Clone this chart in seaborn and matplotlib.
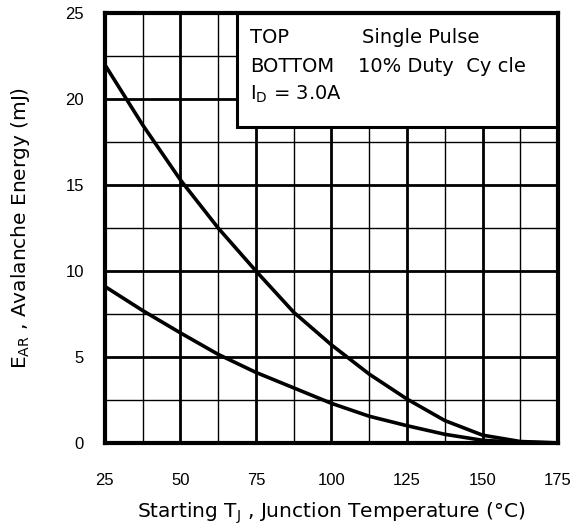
import matplotlib
matplotlib.use("Agg")
import matplotlib.pyplot as plt
import seaborn as sns
import pandas as pd
from matplotlib.patches import Rectangle
from matplotlib.ticker import MultipleLocator

temps = [25, 37.5, 50, 62.5, 75, 87.5, 100, 112.5, 125, 137.5, 150, 162.5, 175]
single_pulse = [22.0, 18.5, 15.3, 12.5, 10.0, 7.6, 5.7, 4.0, 2.55, 1.3, 0.45, 0.08, 0.0]
duty_10 = [9.1, 7.7, 6.4, 5.15, 4.1, 3.2, 2.3, 1.55, 1.0, 0.5, 0.15, 0.03, 0.0]
xticks = [25, 50, 75, 100, 125, 150, 175]
yticks = [0, 5, 10, 15, 20, 25]

sns.set_style("white")
plt.rcParams['font.family'] = ['Liberation Sans', 'DejaVu Sans']
plt.rcParams['mathtext.fontset'] = 'custom'
plt.rcParams['mathtext.rm'] = 'DejaVu Sans'
plt.rcParams['mathtext.it'] = 'DejaVu Sans'
for k in ['text.color', 'axes.labelcolor', 'xtick.color', 'ytick.color']:
    plt.rcParams[k] = 'black'

LBL = ['DejaVu Sans']

df = pd.concat([
    pd.DataFrame({"T": temps, "E": single_pulse, "s": "Single Pulse"}),
    pd.DataFrame({"T": temps, "E": duty_10, "s": "10% Duty Cycle"}),
])

fig = plt.figure(figsize=(5.73, 5.26), dpi=100)
ax = fig.add_axes([0.183, 0.158, 0.791, 0.817])

sns.lineplot(data=df, x="T", y="E", units="s", estimator=None, color="black",
             linewidth=2.6, ax=ax, legend=False, zorder=3)

ax.set_xlim(25, 175)
ax.set_ylim(0, 25)
ax.set_xticks(xticks)
ax.set_yticks(yticks)
ax.xaxis.set_minor_locator(MultipleLocator(12.5))
ax.yaxis.set_minor_locator(MultipleLocator(2.5))
ax.grid(which='major', color='black', linewidth=2.0)
ax.grid(which='minor', color='black', linewidth=1.0)
ax.set_axisbelow(True)
ax.tick_params(which='both', length=0)
ax.tick_params(axis='x', pad=22, labelsize=12)
ax.tick_params(axis='y', pad=15, labelsize=12)
for sp in ax.spines.values():
    sp.set_visible(True)
    sp.set_linewidth(3)
    sp.set_color('black')
    sp.set_zorder(5)

ax.set_xlabel(r"Starting T$_\mathregular{J}$ , Junction Temperature (°C)", fontsize=14.5,
              family=LBL, labelpad=9)
ax.set_ylabel(r"E$_\mathregular{AR}$ , Avalanche Energy (mJ)", fontsize=14.5,
              family=LBL, labelpad=24)

rect = Rectangle((0.291, 0.735), 0.709, 0.265, transform=ax.transAxes,
                 facecolor='white', edgecolor='black', linewidth=2.2, zorder=4)
ax.add_patch(rect)
kw = dict(transform=ax.transAxes, fontsize=14, va='center', zorder=6, family=LBL)
ax.text(0.32, 0.944, "TOP", **kw)
ax.text(0.32, 0.877, "BOTTOM", **kw)
ax.text(0.32, 0.810, r"I$_\mathregular{D}$ = 3.0A", **kw)
ax.text(0.568, 0.944, "Single Pulse", **kw)
ax.text(0.559, 0.877, "10% Duty  Cy cle", **kw)

fig.savefig("out.png", dpi=100)
